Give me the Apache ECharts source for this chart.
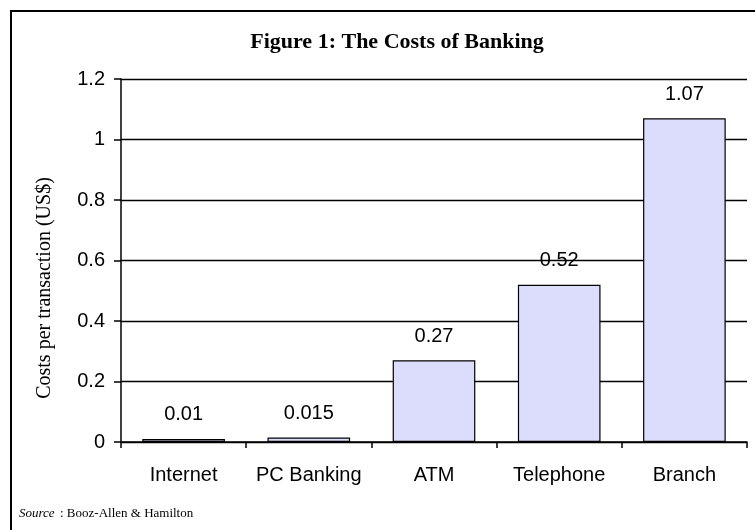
<!DOCTYPE html>
<html><head><meta charset="utf-8">
<script src="https://cdn.jsdelivr.net/npm/echarts@6/dist/echarts.min.js"></script>
<style>html,body{margin:0;padding:0;background:#fff}#c{width:755px;height:530px}</style>
</head><body><div id="c"></div>
<script>
const categories = ['Internet', 'PC Banking', 'ATM', 'Telephone', 'Branch'];
const costs = [0.01, 0.015, 0.27, 0.52, 1.07];
const costLabels = ['0.01', '0.015', '0.27', '0.52', '1.07'];
const yTicks = [0, 0.2, 0.4, 0.6, 0.8, 1, 1.2];

const chart = echarts.init(document.getElementById('c'), null, {renderer: 'canvas'});
chart.setOption({
  animation: false,
  backgroundColor: '#fff',
  title: {
    text: 'Figure 1: The Costs of Banking',
    left: 392, top: 26, textAlign: 'center',
    textStyle: {fontFamily: 'Liberation Serif', fontWeight: 'bold', fontSize: 22, color: '#000'}
  },
  grid: {left: 121, right: 8, top: 79, bottom: 88, containLabel: false},
  xAxis: {
    type: 'category', data: categories,
    axisLine: {lineStyle: {color: '#000', width: 1.5}},
    axisTick: {show: true, interval: 0, length: 6, alignWithLabel: false, lineStyle: {color: '#000', width: 1.5}},
    axisLabel: {interval: 0, hideOverlap: false, fontFamily: 'Liberation Sans', fontSize: 20, color: '#000', margin: 23}
  },
  yAxis: {
    type: 'value', min: 0, max: 1.2, interval: 0.2,
    axisLine: {show: true, lineStyle: {color: '#000', width: 1.5}},
    axisTick: {show: true, length: 7, lineStyle: {color: '#000', width: 1.5}},
    splitLine: {show: true, lineStyle: {color: '#000', width: 1.4}},
    axisLabel: {fontFamily: 'Liberation Sans', fontSize: 20, color: '#000', margin: 16,
      formatter: v => { const t = yTicks.find(x => Math.abs(x - v) < 1e-9); return String(t !== undefined ? t : v); }}
  },
  series: [{
    type: 'bar', data: costs, barCategoryGap: '34%',
    itemStyle: {color: '#dcdcfc', borderColor: '#000', borderWidth: 1.2},
    label: {show: true, position: 'top', distance: 14, fontFamily: 'Liberation Sans', fontSize: 20, color: '#000',
      formatter: p => costLabels[p.dataIndex]}
  }],
  graphic: [
    {type: 'rect', shape: {x: 11, y: 11, width: 800, height: 600}, style: {fill: 'none', stroke: '#000', lineWidth: 2}, silent: true},
    {type: 'text', x: 45, y: 288, rotation: Math.PI / 2,
      style: {text: 'Costs per transaction (US$)', font: '20px "Liberation Serif"', fill: '#000', align: 'center', verticalAlign: 'middle'}},
    {type: 'text', x: 19, y: 514,
      style: {text: 'Source', font: 'italic 13px "Liberation Serif"', fill: '#000', verticalAlign: 'middle'}},
    {type: 'text', x: 60, y: 514,
      style: {text: ': Booz-Allen & Hamilton', font: '13px "Liberation Serif"', fill: '#000', verticalAlign: 'middle'}}
  ]
});
</script></body></html>
